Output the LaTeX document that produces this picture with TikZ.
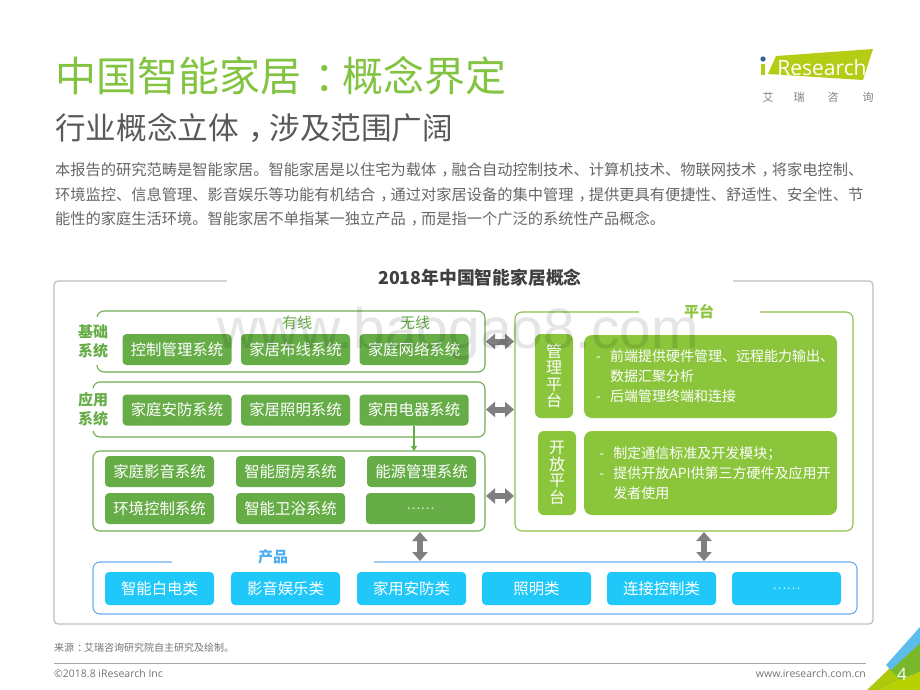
\documentclass[tikz,border=0pt]{standalone}
\usepackage{fontspec}
\usepackage{xcolor}
\usepackage{tikz}
\usetikzlibrary{arrows.meta, positioning}
\setmainfont{Noto Sans CJK SC}
\newfontfamily\footfont{Open Sans}
\newfontfamily\markfont{Liberation Sans}
\definecolor{titlegreen}{HTML}{82C341}
\definecolor{sysgreen}{HTML}{66AD47}
\definecolor{platgreen}{HTML}{8AC53C}
\definecolor{prodblue}{HTML}{1FC8F8}
\definecolor{framegreen}{HTML}{6FAB52}
\definecolor{frameplat}{HTML}{8DC04A}
\definecolor{frameblue}{HTML}{6AAEEE}
\definecolor{labelblue}{HTML}{4DAEF0}
\definecolor{linkgray}{HTML}{7F7F7F}
\definecolor{logolime}{HTML}{B4CC14}
\definecolor{logoblue}{HTML}{3B5BA5}
\definecolor{cornerblue}{HTML}{5CBCEB}
\definecolor{cornerlime}{HTML}{AEC90C}
\definecolor{cornergreen}{HTML}{78B82A}
\definecolor{cornerpale}{HTML}{B8D000}
\newcommand{\fsize}[2]{\fontsize{#1}{#2}\selectfont}
\newcommand{\pc}[1]{\hspace{.32em}#1\hspace{-.32em}}
\tikzset{
    sysbox/.style = {inner sep=0pt, outer sep=0pt, rounded corners=4pt, fill=sysgreen, text=white,
        minimum width=109pt, minimum height=31pt, font=\fsize{15.4}{18}},
    prodbox/.style = {sysbox, fill=prodblue, minimum height=33pt},
    platname/.style = {inner sep=0pt, outer sep=0pt, rounded corners=6pt, fill=platgreen, text=white,
        minimum width=38pt, align=center, font=\fsize{16}{16.4}},
    plattext/.style = {inner sep=0pt, outer sep=0pt, rounded corners=8pt, fill=platgreen, text=white,
        minimum width=253pt, align=left, font=\fsize{14}{20}},
    greenframe/.style = {inner sep=0pt, outer sep=0pt, draw=framegreen, line width=1.1pt, rounded corners=7pt},
    platframe/.style = {greenframe, draw=frameplat},
    blueframe/.style = {greenframe, draw=frameblue},
    grayframe/.style = {greenframe, draw=black!25, line width=1.3pt, rounded corners=4pt},
    gaplabel/.style = {inner sep=0pt, outer sep=0pt, fill=white, align=center, font=\fsize{15}{19}},
    link/.style = {<->, >={Triangle[width=15pt,length=9pt]}, linkgray, line width=6pt, shorten >=1pt, shorten <=1pt},
}
\newcommand{\dashitem}{\hspace*{9pt}\makebox[14pt][l]{-}}
\newcommand{\dashrest}{\hspace*{23pt}}
\begin{document}
\begin{tikzpicture}[x=1pt,y=-1pt]
    \useasboundingbox (0,0) rectangle (920,690);
    % heading
    \node (title) [anchor=west, inner sep=0pt, text=titlegreen, font=\fsize{41}{44}] at (55,76) {中国智能家居\pc{：}概念界定};
    \node (subtitle) [anchor=west, inner sep=0pt, text=black!65, font=\fsize{30.6}{34}] at (55,128) {行业概念立体\pc{，}涉及范围广阔};
    \node (intro) [anchor=west, inner sep=0pt, align=left, text=black!60, font=\fsize{15.25}{24.3}] at (55,194.5)
        {本报告的研究范畴是智能家居。智能家居是以住宅为载体\pc{，}融合自动控制技术、计算机技术、物联网技术\pc{，}将家电控制、\\
         环境监控、信息管理、影音娱乐等功能有机结合\pc{，}通过对家居设备的集中管理\pc{，}提供更具有便捷性、舒适性、安全性、节\\
         能性的家庭生活环境。智能家居不单指某一独立产品\pc{，}而是指一个广泛的系统性产品概念。};
    % logo
    \fill [fill=logolime] (776,56) -- (873,49) -- (863,80) -- (768,74) -- cycle;
    \node (logotext) [inner sep=0pt, text=white, font=\footfont\fsize{21}{21}] at (822,68) {Research};
    \fill [fill=logolime] (761,64) rectangle (765,75);
    \fill [fill=logoblue] (763,59) circle (2.6);
    \node (logoa) [inner sep=0pt, text=black!50, font=\fsize{11}{12}] at (768,97) {艾};
    \node (logob) [inner sep=0pt, text=black!50, font=\fsize{11}{12}] at (799,97) {瑞};
    \node (logoc) [inner sep=0pt, text=black!50, font=\fsize{11}{12}] at (833,97) {咨};
    \node (logod) [inner sep=0pt, text=black!50, font=\fsize{11}{12}] at (868,97) {询};
    % outer frame and the boxes in it
    \node (outer) [grayframe, minimum width=819pt, minimum height=343pt] at (463.5,452.5) {};
    \node (concept) [gaplabel, minimum width=506pt, minimum height=24pt, text=black!75, font=\bfseries\fsize{17.8}{20}] at (480,278) {2018年中国智能家居概念};
    \node (basebox) [greenframe, minimum width=388pt, minimum height=61pt] at (291,341.5) {};
    \node (appbox) [greenframe, minimum width=392pt, minimum height=55pt] at (289,409.5) {};
    \node (devicebox) [greenframe, minimum width=392pt, minimum height=80pt] at (289,491) {};
    \node (platform) [platframe, minimum width=338pt, minimum height=219pt] at (684,421.5) {};
    \node (product) [blueframe, minimum width=764pt, minimum height=52pt] at (475,588) {};
    \node (baselabel) [gaplabel, text=sysgreen, minimum width=36pt, minimum height=48pt] at (93,341) {\textbf{基础}\\\textbf{系统}};
    \node (applabel) [gaplabel, text=sysgreen, minimum width=36pt, minimum height=43pt] at (93,409.5) {\textbf{应用}\\\textbf{系统}};
    \node (platlabel) [gaplabel, text=platgreen, minimum width=121pt, minimum height=20pt] at (699,312) {\textbf{平台}};
    \node (prodlabel) [gaplabel, text=labelblue, minimum width=202pt, minimum height=20pt] at (273,557) {\textbf{产品}};
    \node (wired) [inner sep=0pt, text=sysgreen, font=\fsize{15}{18}] at (297,323) {有线};
    \node (wireless) [inner sep=0pt, text=sysgreen, font=\fsize{15}{18}] at (415,323) {无线};
    % base systems
    \node (control) [sysbox] at (177,349.5) {控制管理系统};
    \node (wiring) [sysbox, right=9.5pt of control] {家居布线系统};
    \node (network) [sysbox, right=9.5pt of wiring] {家庭网络系统};
    % application systems
    \node (security) [sysbox] at (177,410) {家庭安防系统};
    \node (lighting) [sysbox, right=9.5pt of security] {家居照明系统};
    \node (appliance) [sysbox, right=9.5pt of lighting] {家用电器系统};
    \node (theatre) [sysbox] at (159.5,471.5) {家庭影音系统};
    \node (kitchen) [sysbox, right=22pt of theatre] {智能厨房系统};
    \node (energy) [sysbox, right=22pt of kitchen] {能源管理系统};
    \node (climate) [sysbox, below=6pt of theatre] {环境控制系统};
    \node (bath) [sysbox, below=6pt of kitchen] {智能卫浴系统};
    \node (moresys) [sysbox, below=6pt of energy, xshift=-1pt] {\raisebox{-3pt}{\fsize{13}{14}\color{white!75!sysgreen}……}};
    % platform
    \node (manage) [platname, minimum height=84pt] at (554,376) {管\\理\\平\\台};
    \node (open) [platname, minimum height=84pt] at (557,473) {开\\放\\平\\台};
    \node (managetext) [plattext, minimum height=83pt] at (710.5,376.5)
        {\dashitem 前端提供硬件管理、远程能力输出、\\
         \dashrest 数据汇聚分析\\
         \dashitem 后端管理终端和连接};
    \node (opentext) [plattext, minimum height=84pt] at (710.5,473)
        {\dashitem 制定通信标准及开发模块；\\
         \dashitem 提供开放API供第三方硬件及应用开\\
         \dashrest 发者使用};
    % products
    \node (white) [prodbox] at (159.5,588.5) {智能白电类};
    \node (media) [prodbox, right=17pt of white] {影音娱乐类};
    \node (guard) [prodbox, right=17pt of media] {家用安防类};
    \node (lamp) [prodbox, right=16pt of guard] {照明类};
    \node (connect) [prodbox, right=16pt of lamp] {连接控制类};
    \node (moreprod) [prodbox, right=16pt of connect] {\raisebox{-3pt}{\fsize{13}{14}\color{white!75!prodblue}……}};
    % links
    \draw [link] (basebox.east) -- (basebox.east -| platform.west);
    \draw [link] (appbox.east) -- (appbox.east -| platform.west);
    \draw [link] ([yshift=-5pt]devicebox.east) -- ([yshift=-5pt]devicebox.east -| platform.west);
    \draw [link] (devicebox.south -| moresys.west) ++(54pt,0) coordinate (devfoot) -- (devfoot |- product.north);
    \draw [link] (platform.south) ++(20pt,0) coordinate (platfoot) -- (platfoot |- product.north);
    \draw [-{Triangle[width=6pt,length=5pt]}, sysgreen, line width=1.1pt] (appliance.south) -- (appliance.south |- devicebox.north);
    % footer
    \node (source) [anchor=west, inner sep=0pt, text=black!55, font=\fsize{10}{12}] at (54,648) {来源\pc{：}艾瑞咨询研究院自主研究及绘制。};
    \coordinate (footl) at (54,663);
    \coordinate (footr) at (866,663);
    \draw [black!35, line width=1pt] (footl) -- (footr);
    \node (copy) [anchor=west, inner sep=0pt, text=black!55, font=\footfont\fsize{10.5}{12}] at (54,674) {©2018.8 iResearch Inc};
    \node (site) [anchor=east, inner sep=0pt, text=black!55, font=\footfont\fsize{10.5}{12}] at (866,674) {www.iresearch.com.cn};
    % corner
    \fill [fill=cornerlime] (867,690) -- (890,668) -- (900,680) -- (880,690) -- cycle;
    \fill [fill=cornergreen] (888,667) -- (920,633) -- (920,672) -- (900,680) -- cycle;
    \fill [fill=cornerpale] (880,690) -- (900,680) -- (920,672) -- (920,690) -- cycle;
    \fill [fill=cornerblue] (920,627) -- (886,665) -- (891,670) -- (920,643) -- cycle;
    \node (page) [inner sep=0pt, text=white, font=\footfont\fsize{17}{18}] at (902,674) {4};
    % watermark
    \node (mark) [anchor=base west, inner sep=0pt, text=black, text opacity=0.1, font=\markfont\fsize{57}{60}] at (217,348) {www.baogao8.com};
\end{tikzpicture}
\end{document}
